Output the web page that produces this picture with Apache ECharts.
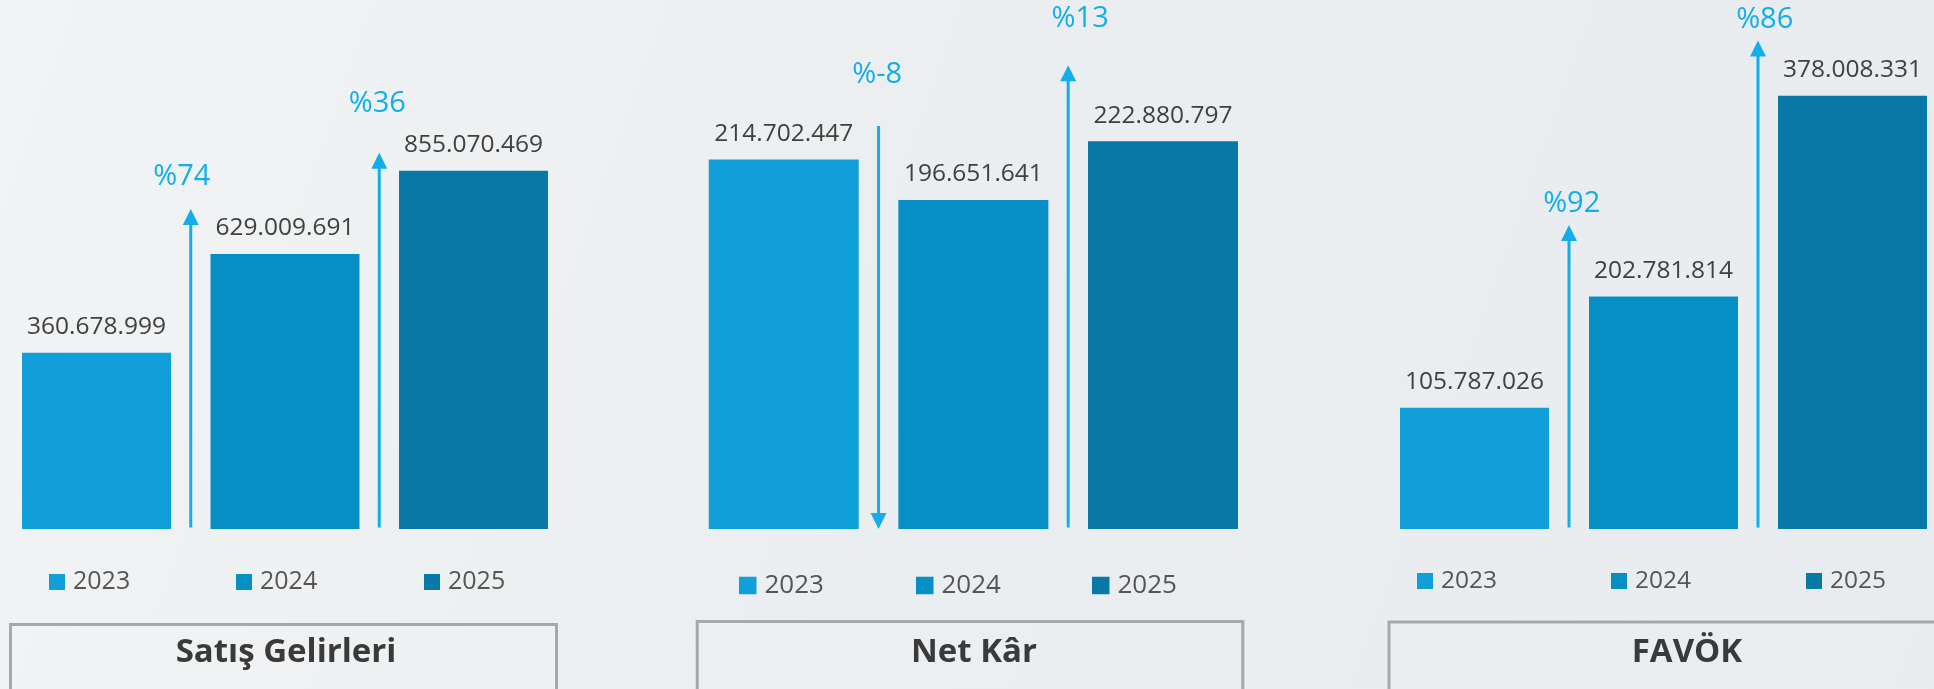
<!DOCTYPE html>
<html>
<head>
<meta charset="utf-8">
<script src="https://cdn.jsdelivr.net/npm/echarts@6/dist/echarts.min.js"></script>
<style>
  html, body { margin: 0; padding: 0; }
  #chart { width: 1934px; height: 689px; }
</style>
</head>
<body>
<div id="chart"></div>
<script>
const years = ['2023', '2024', '2025'];
const salesValues = [360678999, 629009691, 855070469];
const netProfitValues = [214702447, 196651641, 222880797];
const ebitdaValues = [105787026, 202781814, 378008331];
const salesGrowth = ['%74', '%36'];
const netProfitGrowth = ['%-8', '%13'];
const ebitdaGrowth = ['%92', '%86'];
const panelTitles = ['Satış Gelirleri', 'Net Kâr', 'FAVÖK'];

const yearColors = ['#109fd8', '#068fc5', '#0879a6'];
const arrowColor = '#13aeea';
const HEAD = 16;

// layout of the three panels (pixels); grid spans first to last bar centre
const panels = [
  {
    values: salesValues, growth: salesGrowth,
    left: 96.5, width: 377, barWidth: 149, yMin: -118.6e6, yMax: 1318.9e6,
    legendLeft: [49, 236, 424], legendTop: 569.5, legendFont: 25, icon: 16,
    box: [10.5, 624.5, 546, 120], titleX: 286,
    arrows: [{ gap: 45, dx: -9, dy: 32 }, { gap: 18, dx: -2, dy: 49 }]
  },
  {
    values: netProfitValues, growth: netProfitGrowth,
    left: 783.75, width: 379.25, barWidth: 150, yMin: 49.48e6, yMax: 286.1e6,
    legendLeft: [739, 916, 1092], legendTop: 572.5, legendFont: 26, icon: 17.5,
    box: [697.2, 621.5, 545.6, 120], titleX: 974,
    arrows: [{ gap: 33.6, dx: -1.4, dy: 51 }, { gap: 76, dx: 12, dy: 47 }]
  },
  {
    values: ebitdaValues, growth: ebitdaGrowth,
    left: 1474.5, width: 378, barWidth: 149, yMin: 0, yMax: 461.6e6,
    legendLeft: [1417, 1611, 1806], legendTop: 568.5, legendFont: 24.5, icon: 16,
    box: [1389, 622, 600, 120], titleX: 1687,
    arrows: [{ gap: 71.6, dx: 2.7, dy: 21.6 }, { gap: 55.4, dx: 6.7, dy: 20.6 }]
  }
];

function fmt(v) {
  return String(v).replace(/\B(?=(\d{3})+(?!\d))/g, '.');
}

const chart = echarts.init(document.getElementById('chart'));

const grid = [], xAxis = [], yAxis = [], series = [], legend = [], graphic = [];

panels.forEach((p, pi) => {
  grid.push({ left: p.left, width: p.width, top: 0, bottom: 160 });
  xAxis.push({ type: 'category', gridIndex: pi, data: years, boundaryGap: false, show: false });
  yAxis.push({ type: 'value', gridIndex: pi, min: p.yMin, max: p.yMax, startValue: p.yMin, show: false });

  years.forEach((y, j) => {
    series.push({
      type: 'bar',
      name: y,
      xAxisIndex: pi,
      yAxisIndex: pi,
      clip: false,
      barWidth: p.barWidth,
      barGap: '-100%',
      itemStyle: { color: yearColors[j] },
      label: {
        show: true,
        position: 'top',
        distance: 13,
        color: '#404040',
        fontSize: 24.5,
        fontFamily: 'Open Sans',
        formatter: (d) => fmt(d.value)
      },
      data: p.values.map((v, i) => (i === j ? v : '-'))
    });

    legend.push({
      data: [y],
      left: p.legendLeft[j],
      top: p.legendTop,
      padding: 0,
      icon: 'rect',
      itemWidth: p.icon,
      itemHeight: p.icon,
      selectedMode: false,
      textStyle: { color: '#555', fontSize: p.legendFont, fontFamily: 'Open Sans', padding: [0, 0, 0, 3] }
    });
  });

  series.push({
    type: 'custom',
    xAxisIndex: pi,
    yAxisIndex: pi,
    z: 5,
    clip: false,
    encode: { x: 0, y: [1, 2] },
    data: p.growth.map((g, i) => [i, p.values[i], p.values[i + 1]]),
    renderItem: function (params, api) {
      const i = api.value(0);
      const from = api.value(1);
      const to = api.value(2);
      const a = p.arrows[params.dataIndex];
      const cs = params.coordSys;
      const base = cs.y + cs.height;
      const x = (api.coord([i, from])[0] + api.coord([i + 1, to])[0]) / 2;
      let topY, line, head;
      if (to >= from) {
        topY = api.coord([i + 1, to])[1] - a.gap;
        line = { x1: x, y1: base - 1.5, x2: x, y2: topY + HEAD - 2 };
        head = [[x, topY], [x - 8, topY + HEAD], [x + 8, topY + HEAD]];
      } else {
        topY = api.coord([i, from])[1] - a.gap;
        line = { x1: x, y1: topY, x2: x, y2: base - HEAD + 2 };
        head = [[x, base], [x - 8, base - HEAD], [x + 8, base - HEAD]];
      }
      return {
        type: 'group',
        children: [
          { type: 'line', shape: line, style: { stroke: arrowColor, lineWidth: 3 } },
          { type: 'polygon', shape: { points: head }, style: { fill: arrowColor } },
          {
            type: 'text',
            x: x + a.dx,
            y: topY - a.dy,
            style: {
              text: p.growth[params.dataIndex],
              fill: arrowColor,
              fontSize: 29,
              fontFamily: 'Open Sans',
              align: 'center',
              verticalAlign: 'middle'
            }
          }
        ]
      };
    }
  });

  graphic.push({
    type: 'rect',
    shape: { x: p.box[0], y: p.box[1], width: p.box[2], height: p.box[3] },
    style: { fill: 'rgba(255,255,255,0.08)', stroke: '#a6a9ab', lineWidth: 3 },
    z: 1
  });
  graphic.push({
    type: 'text',
    x: p.titleX,
    y: 653,
    style: {
      text: panelTitles[pi],
      fill: '#3a3a3a',
      fontSize: 33,
      fontWeight: 'bold',
      fontFamily: 'Open Sans',
      align: 'center',
      verticalAlign: 'middle'
    },
    z: 2
  });
});

chart.setOption({
  animation: false,
  backgroundColor: new echarts.graphic.LinearGradient(0, 0, 1, 1, [
    { offset: 0, color: '#f1f3f4' },
    { offset: 0.5, color: '#ebeef0' },
    { offset: 1, color: '#e8ecee' }
  ]),
  grid: grid,
  xAxis: xAxis,
  yAxis: yAxis,
  legend: legend,
  graphic: graphic,
  series: series
});

window.addEventListener('resize', function () {
  chart.resize();
});
</script>
</body>
</html>
